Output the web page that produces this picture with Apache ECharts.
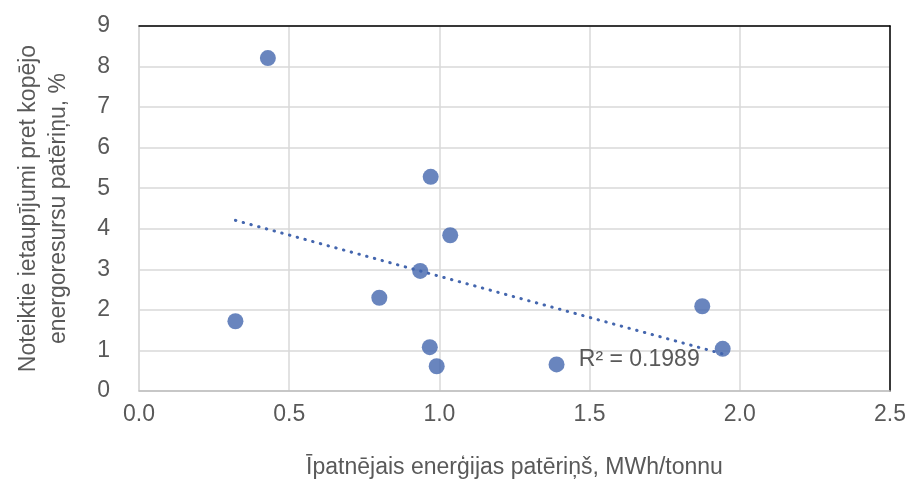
<!DOCTYPE html>
<html><head><meta charset="utf-8">
<script src="https://cdn.jsdelivr.net/npm/echarts@6/dist/echarts.min.js"></script>
<style>html,body{margin:0;padding:0;background:#fff}#c{width:907px;height:479px}</style>
</head><body><div id="c"></div>
<script>
const xValues = [0.429, 0.321, 0.971, 1.036, 0.936, 0.80, 0.968, 0.991, 1.39, 1.875, 1.943];
const yValues = [8.21, 1.72, 5.28, 3.84, 2.96, 2.30, 1.08, 0.61, 0.655, 2.09, 1.04];
const xTicks = ['0.0','0.5','1.0','1.5','2.0','2.5'];
const yTicks = ['0','1','2','3','4','5','6','7','8','9'];
const r2Label = 'R² = 0.1989';
const xTitle = 'Īpatnējais enerģijas patēriņš, MWh/tonnu';
const yTitle = 'Noteiktie ietaupījumi pret kopējo\nenergoresursu patēriņu, %';

// linear least-squares trendline from the data
const n = xValues.length;
const mx = xValues.reduce((a,b)=>a+b,0)/n, my = yValues.reduce((a,b)=>a+b,0)/n;
let sxy=0,sxx=0; for(let i=0;i<n;i++){sxy+=(xValues[i]-mx)*(yValues[i]-my);sxx+=(xValues[i]-mx)**2;}
const slope=sxy/sxx, icpt=my-slope*mx;
const xmin=Math.min(...xValues), xmax=Math.max(...xValues);
const trend=[[xmin,icpt+slope*xmin],[xmax,icpt+slope*xmax]];

const FONT='"Liberation Sans", Arial, sans-serif';
const TXT='#595959';
const FS=23;
const chart=echarts.init(document.getElementById('c'),null,{renderer:'canvas'});
chart.setOption({
  animation:false,
  textStyle:{fontFamily:FONT},
  grid:{left:139,right:17,top:26,bottom:88,containLabel:false,outerBoundsMode:'none'},
  xAxis:[{type:'value',min:0,max:2.5,interval:0.5,
    axisLabel:{formatter:v=>xTicks[Math.round(v/0.5)],fontSize:FS,color:TXT,margin:12,fontFamily:FONT},
    axisLine:{show:true,onZero:false,lineStyle:{color:'#bfbfbf',width:1.5}},axisTick:{show:false},
    splitLine:{show:true,lineStyle:{color:'#d9d9d9',width:1.5}},
    name:xTitle,nameLocation:'middle',nameGap:65,
    nameTextStyle:{fontSize:FS,color:TXT,fontFamily:FONT}},
   {type:'value',position:'top',min:0,max:2.5,axisLabel:{show:false},axisTick:{show:false},splitLine:{show:false},
    axisLine:{show:true,onZero:false,lineStyle:{color:'#000',width:1.5}}}],
  yAxis:[{type:'value',min:0,max:9,interval:1,
    axisLabel:{formatter:v=>yTicks[Math.round(v)],fontSize:FS,color:TXT,margin:29,fontFamily:FONT},
    axisLine:{show:true,onZero:false,lineStyle:{color:'#d9d9d9',width:1.5}},axisTick:{show:false},
    splitLine:{show:true,lineStyle:{color:'#d9d9d9',width:1.5}},
    name:yTitle,nameLocation:'middle',nameGap:65,nameRotate:90,
    nameTextStyle:{fontSize:FS,color:TXT,fontFamily:FONT,lineHeight:30,align:'center'}},
   {type:'value',position:'right',min:0,max:9,axisLabel:{show:false},axisTick:{show:false},splitLine:{show:false},
    axisLine:{show:true,onZero:false,lineStyle:{color:'#000',width:1.5}}}],
  series:[
    {type:'line',data:trend,symbol:'none',silent:true,z:1,
     lineStyle:{color:'#4466AE',width:3,type:[0.5,7.5],cap:'round'},
     markPoint:{symbol:'circle',symbolSize:0,
       data:[{coord:trend[1],label:{show:true,formatter:r2Label,position:'left',distance:23,offset:[0,6],fontSize:FS,color:TXT,fontFamily:FONT}}]}},
    {type:'scatter',data:xValues.map((x,i)=>[x,yValues[i]]),symbolSize:16,z:3,
     itemStyle:{color:'#4466AE'}}
  ]
});
</script></body></html>
